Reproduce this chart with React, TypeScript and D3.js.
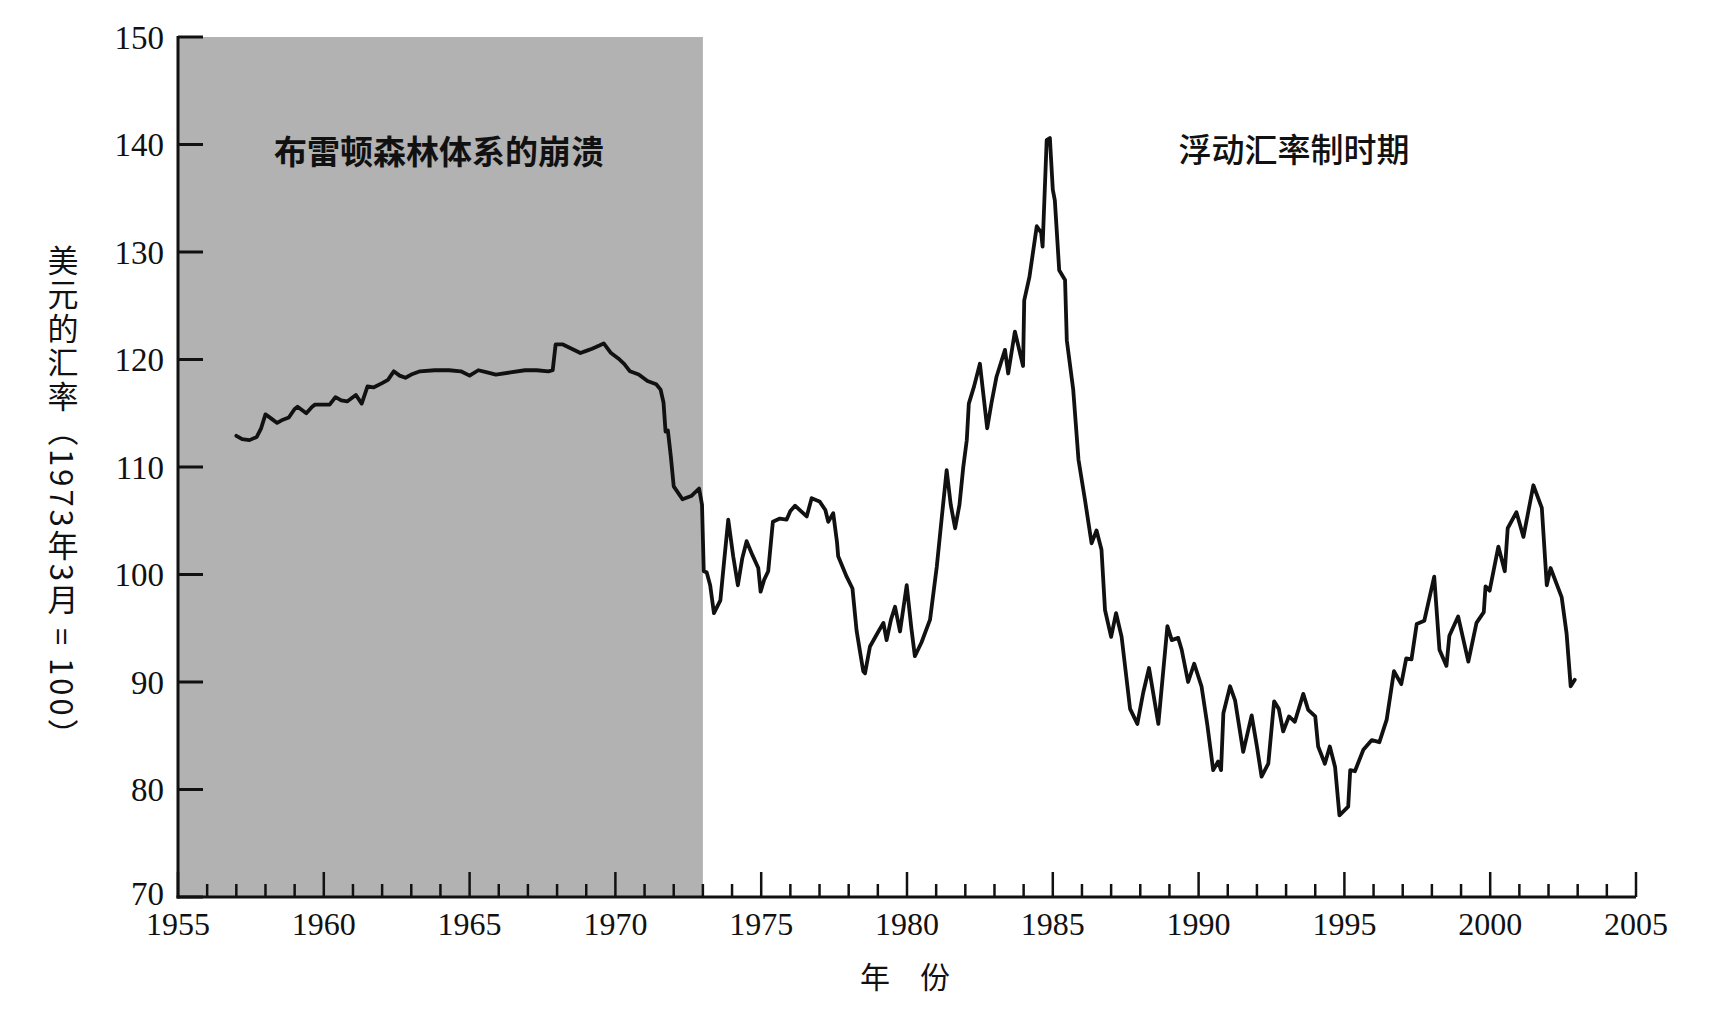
import React from "react";
import * as d3 from "d3";

const years: number[] = [
  1957.0, 1957.2, 1957.45, 1957.7, 1957.85, 1958.0, 1958.2, 1958.4, 1958.6, 1958.8,
  1959.0, 1959.1, 1959.4, 1959.6, 1959.7, 1960.0, 1960.2, 1960.4, 1960.6, 1960.8,
  1961.1, 1961.3, 1961.5, 1961.7, 1962.0, 1962.2, 1962.4, 1962.6, 1962.8, 1963.0,
  1963.3, 1963.8, 1964.3, 1964.7, 1965.0, 1965.3, 1965.6, 1965.9, 1966.4, 1966.9,
  1967.3, 1967.7, 1967.85, 1967.95, 1968.2, 1968.5, 1968.8, 1969.0, 1969.2, 1969.45,
  1969.6, 1969.85, 1970.1, 1970.3, 1970.5, 1970.8, 1971.1, 1971.4, 1971.55, 1971.65,
  1971.72, 1971.8, 1971.9, 1972.0, 1972.3, 1972.6, 1972.87, 1972.97, 1973.03, 1973.13,
  1973.25, 1973.38, 1973.6, 1973.72, 1973.87, 1974.04, 1974.2, 1974.35, 1974.5, 1974.7,
  1974.9, 1974.98, 1975.1, 1975.24, 1975.4, 1975.64, 1975.87, 1976.0, 1976.16, 1976.4,
  1976.56, 1976.73, 1977.0, 1977.2, 1977.3, 1977.47, 1977.6, 1977.64, 1977.93, 1978.13,
  1978.27, 1978.39, 1978.5, 1978.56, 1978.73, 1979.0, 1979.19, 1979.3, 1979.45, 1979.59,
  1979.76, 1979.99, 1980.15, 1980.27, 1980.5, 1980.79, 1981.02, 1981.2, 1981.36, 1981.5,
  1981.65, 1981.8, 1981.93, 1982.05, 1982.12, 1982.3, 1982.5, 1982.75, 1982.9, 1983.07,
  1983.36, 1983.47, 1983.7, 1983.98, 1984.02, 1984.2, 1984.45, 1984.6, 1984.65, 1984.79,
  1984.9, 1985.0, 1985.07, 1985.22, 1985.42, 1985.48, 1985.7, 1985.88, 1986.1, 1986.33,
  1986.5, 1986.67, 1986.79, 1987.0, 1987.17, 1987.36, 1987.65, 1987.9, 1988.1, 1988.3,
  1988.62, 1988.93, 1989.08, 1989.3, 1989.42, 1989.64, 1989.85, 1990.1, 1990.3, 1990.5,
  1990.67, 1990.77, 1990.85, 1991.08, 1991.25, 1991.53, 1991.82, 1992.0, 1992.16, 1992.39,
  1992.59, 1992.75, 1992.9, 1993.1, 1993.3, 1993.59, 1993.76, 1994.0, 1994.1, 1994.33,
  1994.5, 1994.68, 1994.83, 1995.13, 1995.2, 1995.36, 1995.65, 1995.94, 1996.2, 1996.45,
  1996.7, 1996.95, 1997.12, 1997.3, 1997.48, 1997.74, 1998.08, 1998.26, 1998.5, 1998.6,
  1998.9, 1999.25, 1999.53, 1999.78, 1999.84, 1999.98, 2000.28, 2000.5, 2000.6, 2000.9,
  2001.14, 2001.48, 2001.77, 2001.94, 2002.07, 2002.45, 2002.62, 2002.76, 2002.9,
];

const values: number[] = [
  112.9, 112.6, 112.5, 112.8, 113.6, 114.9, 114.5, 114.1, 114.4, 114.6,
  115.4, 115.6, 115.0, 115.6, 115.8, 115.8, 115.8, 116.5, 116.2, 116.1,
  116.7, 115.9, 117.5, 117.4, 117.8, 118.1, 118.9, 118.5, 118.3, 118.6,
  118.9, 119.0, 119.0, 118.9, 118.5, 119.0, 118.8, 118.6, 118.8, 119.0,
  119.0, 118.9, 119.0, 121.4, 121.4, 121.0, 120.6, 120.8, 121.0, 121.3,
  121.5, 120.6, 120.1, 119.6, 118.9, 118.6, 118.0, 117.7, 117.2, 116.0,
  113.3, 113.4, 111.0, 108.2, 107.0, 107.3, 108.0, 106.5, 100.3, 100.2,
  99.0, 96.4, 97.6, 101.0, 105.1, 101.7, 99.0, 101.5, 103.1, 101.8,
  100.6, 98.4, 99.5, 100.3, 104.9, 105.2, 105.1, 105.9, 106.4, 105.8,
  105.4, 107.1, 106.8, 106.0, 104.9, 105.7, 103.0, 101.7, 99.8, 98.7,
  94.8, 92.8, 91.0, 90.8, 93.3, 94.6, 95.5, 93.9, 95.8, 97.0,
  94.7, 99.0, 95.0, 92.4, 93.7, 95.8, 100.7, 105.5, 109.7, 106.5,
  104.3, 106.5, 110.0, 112.5, 115.9, 117.5, 119.6, 113.6, 116.0, 118.4,
  120.9, 118.7, 122.6, 119.4, 125.5, 127.7, 132.4, 131.8, 130.5, 140.4,
  140.6, 135.8, 134.8, 128.3, 127.4, 121.8, 117.2, 110.7, 107.0, 102.9,
  104.1, 102.3, 96.7, 94.2, 96.4, 94.2, 87.5, 86.1, 89.0, 91.3,
  86.1, 95.2, 93.9, 94.1, 93.0, 90.0, 91.7, 89.6, 86.0, 81.8,
  82.6, 81.8, 87.1, 89.6, 88.3, 83.5, 86.9, 84.0, 81.2, 82.4,
  88.2, 87.5, 85.4, 86.8, 86.3, 88.9, 87.4, 86.8, 84.0, 82.4,
  84.0, 82.1, 77.6, 78.4, 81.8, 81.7, 83.7, 84.6, 84.4, 86.5,
  91.0, 89.8, 92.2, 92.1, 95.4, 95.7, 99.8, 93.0, 91.5, 94.3,
  96.1, 91.9, 95.5, 96.5, 98.9, 98.5, 102.6, 100.3, 104.3, 105.8,
  103.5, 108.3, 106.2, 99.0, 100.6, 97.9, 94.5, 89.6, 90.2,
];

const yTicks: number[] = [70, 80, 90, 100, 110, 120, 130, 140, 150];
const xMajorTicks: number[] = [1955, 1960, 1965, 1970, 1975, 1980, 1985, 1990, 1995, 2000, 2005];
const xMinorTicks: number[] = d3.range(1956, 2005).filter((v) => v % 5 !== 0);
const shadeRange: number[] = [1955, 1973];

const yTitle = "美元的汇率（1973年3月 = 100）";
const xTitle = "年　份";
const leftNote = "布雷顿森林体系的崩溃";
const rightNote = "浮动汇率制时期";

export default function App() {
  const W = 1718;
  const H = 1010;
  const x = d3.scaleLinear().domain([1955, 2005]).range([178, 1636]);
  const y = d3.scaleLinear().domain([70, 150]).range([897, 37]);
  const data = years.map((yr, i) => [yr, values[i]] as [number, number]);
  const line = d3
    .line<[number, number]>()
    .x((d) => x(d[0]))
    .y((d) => y(d[1]));

  const serif = "'Liberation Serif', 'Times New Roman', serif";
  const cjk = "'Noto Sans CJK SC', sans-serif";
  const x0 = x(1955);
  const yBase = y(70);

  return (
    <svg
      width={W}
      height={H}
      style={{ position: "absolute", left: 0, top: 0, background: "#fff" }}
    >
      <rect x={0} y={0} width={W} height={H} fill="#ffffff" />
      {/* shaded Bretton Woods period */}
      <rect
        x={x(shadeRange[0])}
        y={y(150)}
        width={x(shadeRange[1]) - x(shadeRange[0])}
        height={y(70) - y(150)}
        fill="#b2b2b2"
      />
      {/* y axis */}
      <line x1={x0} x2={x0} y1={y(150) - 1} y2={yBase + 1.5} stroke="#111" strokeWidth={3} />
      {yTicks.map((t) => (
        <g key={"y" + t}>
          <line x1={x0} x2={x0 + 25} y1={y(t)} y2={y(t)} stroke="#111" strokeWidth={3} />
          <text
            x={164}
            y={t === 70 ? y(t) - 4 : y(t)}
            dy="0.35em"
            textAnchor="end"
            fontFamily={serif}
            fontSize={33}
            fill="#111"
          >
            {t}
          </text>
        </g>
      ))}
      {/* x axis */}
      <line x1={x0 - 1.5} x2={x(2005)} y1={yBase} y2={yBase} stroke="#111" strokeWidth={3} />
      {xMajorTicks.map((t) => (
        <g key={"x" + t}>
          <line x1={x(t)} x2={x(t)} y1={yBase} y2={yBase - 25} stroke="#111" strokeWidth={2.5} />
          <text
            x={x(t)}
            y={935}
            textAnchor="middle"
            fontFamily={serif}
            fontSize={32}
            fill="#111"
          >
            {t}
          </text>
        </g>
      ))}
      {xMinorTicks.map((t) => (
        <line
          key={"m" + t}
          x1={x(t)}
          x2={x(t)}
          y1={yBase}
          y2={yBase - 13}
          stroke="#111"
          strokeWidth={2.5}
        />
      ))}
      {/* data line */}
      <path
        d={line(data) || ""}
        fill="none"
        stroke="#111"
        strokeWidth={3.8}
        strokeLinejoin="round"
        strokeLinecap="round"
      />
      {/* annotations */}
      <text
        x={439}
        y={152}
        dy="0.35em"
        textAnchor="middle"
        fontFamily={cjk}
        fontWeight={700}
        fontSize={33}
        fill="#111"
      >
        {leftNote}
      </text>
      <text
        x={1294}
        y={150}
        dy="0.35em"
        textAnchor="middle"
        fontFamily={cjk}
        fontWeight={500}
        fontSize={33}
        fill="#111"
      >
        {rightNote}
      </text>
      {/* axis titles */}
      <text
        x={905}
        y={977}
        dy="0.35em"
        textAnchor="middle"
        fontFamily={cjk}
        fontSize={30}
        fill="#111"
      >
        {xTitle}
      </text>
      <text
        x={63}
        y={245}
        fontFamily={cjk}
        fontSize={31}
        letterSpacing={3}
        fill="#111"
        style={{ writingMode: "vertical-rl" } as React.CSSProperties}
      >
        {yTitle}
      </text>
    </svg>
  );
}
